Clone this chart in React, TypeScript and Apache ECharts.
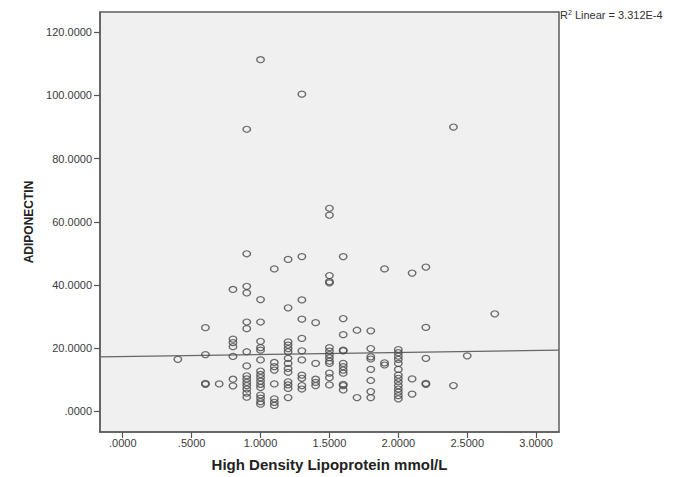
import React, { useEffect, useRef } from "react";
import * as echarts from "echarts";

// HDL values (x) and adiponectin values (y) observed at each HDL level
const hdlLevels = [0.4, 0.6, 0.7, 0.8, 0.9, 1.0, 1.1, 1.2, 1.3, 1.4, 1.5, 1.6, 1.7, 1.8, 1.9, 2.0, 2.1, 2.2, 2.4, 2.5, 2.7];
const adiponectinByLevel: number[][] = [
  [16.5],
  [26.5, 18.0, 8.9, 8.6],
  [8.7],
  [38.6, 22.9, 21.8, 20.5, 17.4, 10.2, 8.1],
  [89.3, 49.9, 39.6, 37.5, 28.3, 26.2, 18.9, 14.4, 11.3, 10.3, 9.2, 8.2, 7.1, 5.8, 4.5],
  [111.3, 35.4, 28.3, 22.2, 20.2, 19.4, 16.3, 12.8, 11.7, 10.7, 9.6, 8.6, 7.6, 5.2, 4.2, 3.1, 2.3],
  [45.1, 15.5, 14.2, 13.1, 8.7, 4.0, 2.9, 1.9],
  [48.1, 32.8, 22.0, 21.0, 19.9, 18.9, 16.8, 15.2, 13.6, 12.4, 9.4, 8.4, 7.3, 4.4],
  [100.4, 49.0, 35.3, 29.2, 23.1, 19.2, 16.3, 11.5, 10.5, 8.2, 7.1],
  [28.1, 15.2, 10.2, 9.2, 8.2],
  [64.3, 62.1, 43.0, 41.1, 40.7, 20.2, 19.1, 18.0, 17.0, 15.9, 15.2, 12.1, 10.7, 8.4],
  [49.0, 29.4, 24.3, 19.4, 19.2, 15.2, 14.2, 13.1, 12.1, 8.6, 8.2, 6.8],
  [25.7, 4.4],
  [25.5, 19.9, 17.3, 16.6, 13.3, 9.8, 6.3, 4.4],
  [45.1, 15.4, 14.7],
  [19.6, 18.6, 17.5, 16.5, 15.2, 13.3, 11.5, 10.5, 9.4, 8.2, 7.1, 6.1, 5.0, 4.0],
  [43.8, 10.3, 5.5],
  [45.7, 26.6, 16.8, 8.9, 8.6],
  [90.0, 8.2],
  [17.6],
  [30.9],
];

// Linear fit line (intercept, slope) and R² annotation
const fitIntercept = 17.4;
const fitSlope = 0.63;
const rSquaredText = "3.312E-4";

const xTicks = [0, 0.5, 1, 1.5, 2, 2.5, 3];
const yTicks = [0, 20, 40, 60, 80, 100, 120];
const xRange = [-0.165, 3.166];
const yRange = [-6.5, 126.4];

const fmt = (v: number) => v.toFixed(4).replace(/^0\./, ".");

export default function App() {
  const ref = useRef<HTMLDivElement>(null);
  useEffect(() => {
    if (!ref.current) return;
    const chart = echarts.init(ref.current, undefined, { renderer: "svg" });
    const points: number[][] = [];
    hdlLevels.forEach((x, i) => {
      adiponectinByLevel[i].forEach((y) => points.push([x, y]));
    });
    const fitData = xRange.map((x) => [x, fitIntercept + fitSlope * x]);
    const tickStyle = { color: "#555", width: 1.2 };
    const lineStyle = { color: "#5e5e5e", width: 1.5 };
    chart.setOption({
      animation: false,
      backgroundColor: "#ffffff",
      textStyle: { fontFamily: "Liberation Sans, Arial, sans-serif" },
      grid: {
        left: 100,
        right: 118,
        top: 12,
        bottom: 43,
        show: true,
        backgroundColor: "#f0f0f0",
        borderColor: "#5e5e5e",
        borderWidth: 1.5,
      },
      xAxis: {
        type: "value",
        min: xRange[0],
        max: xRange[1],
        name: "High Density Lipoprotein mmol/L",
        nameLocation: "middle",
        nameGap: 25,
        nameTextStyle: { fontSize: 15, fontWeight: "bold", color: "#222" },
        axisLine: { show: true, onZero: false, lineStyle },
        splitLine: { show: false },
        axisTick: { show: true, inside: false, customValues: xTicks, length: 6, lineStyle: tickStyle },
        axisLabel: { customValues: xTicks, formatter: fmt, fontSize: 11, color: "#3a3a3a", margin: 5 },
      },
      yAxis: {
        type: "value",
        min: yRange[0],
        max: yRange[1],
        name: "ADIPONECTIN",
        nameLocation: "middle",
        nameGap: 64,
        nameTextStyle: { fontSize: 12, fontWeight: "bold", color: "#222" },
        axisLine: { show: true, onZero: false, lineStyle },
        splitLine: { show: false },
        axisTick: { show: true, inside: false, customValues: yTicks, length: 6, lineStyle: tickStyle },
        axisLabel: { customValues: yTicks, formatter: fmt, fontSize: 11, color: "#3a3a3a", margin: 8 },
      },
      graphic: [
        {
          type: "text",
          left: 560,
          top: 9,
          style: {
            text: "{r|R}{s|2}{r| Linear = " + rSquaredText + "}",
            rich: {
              r: { fontSize: 11, fill: "#333", fontFamily: "Liberation Sans, Arial, sans-serif" },
              s: { fontSize: 7, fill: "#333", verticalAlign: "top", padding: [0, 0, 4, 0] },
            },
          },
        },
      ],
      series: [
        {
          type: "scatter",
          data: points,
          symbol: "circle",
          symbolSize: [7.5, 6],
          itemStyle: { color: "transparent", borderColor: "#4a4a4a", borderWidth: 1.3 },
          z: 3,
        },
        {
          type: "line",
          data: fitData,
          symbol: "none",
          lineStyle: { color: "#666", width: 1.3 },
          z: 2,
        },
      ],
    });
    return () => chart.dispose();
  }, []);
  return <div ref={ref} style={{ position: "fixed", left: 0, top: 0, width: 677, height: 477 }} />;
}
